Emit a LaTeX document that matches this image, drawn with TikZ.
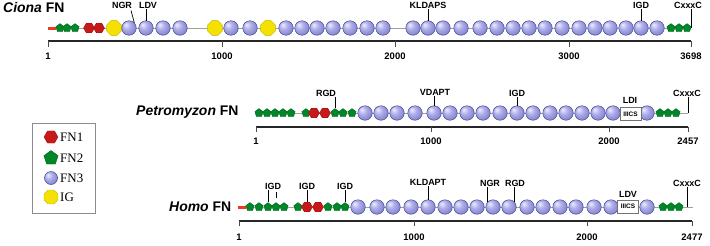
\documentclass[tikz,border=0pt]{standalone}
\usepackage{fontspec}
\setmainfont{Liberation Sans}
\newfontfamily\legfont{Liberation Serif}
\usetikzlibrary{shapes.geometric}
\definecolor{fnonecol}{RGB}{200,25,25}
\definecolor{fntwocol}{RGB}{0,135,40}
\definecolor{fnthreehi}{RGB}{238,238,255}
\definecolor{fnthreecol}{RGB}{172,172,232}
\definecolor{fnthreedk}{RGB}{125,125,205}
\definecolor{fnthreeline}{RGB}{70,70,145}
\definecolor{igcol}{RGB}{245,225,0}
\definecolor{dashcol}{RGB}{235,60,30}
\definecolor{bbcol}{RGB}{160,160,160}
\pgfdeclareradialshading{fnball}{\pgfpoint{-12bp}{12bp}}{color(0bp)=(fnthreehi); color(14bp)=(fnthreecol); color(32bp)=(fnthreedk); color(50bp)=(fnthreedk)}
\begin{document}
\begin{tikzpicture}[x=1bp,y=-1bp,
  backbone/.style={draw=bbcol, line width=0.8bp},
  axisline/.style={draw=black!85, line width=1.4bp},
  tickline/.style={draw=black!70, line width=0.6bp},
  labline/.style={draw=black, line width=0.7bp},
  fnthree/.style={circle, inner sep=0pt, minimum size=14.5bp, draw=fnthreeline, line width=0.5bp, shading=fnball},
  fntwo/.style={regular polygon, regular polygon sides=5, inner sep=0pt, minimum size=8.8bp, fill=fntwocol, draw=fntwocol!70!black, line width=0.3bp},
  fnone/.style={regular polygon, regular polygon sides=6, inner sep=0pt, minimum size=11bp, fill=fnonecol, draw=fnonecol!70!black, line width=0.3bp},
  igmod/.style={regular polygon, regular polygon sides=8, inner sep=0pt, minimum size=16bp, fill=igcol, draw=igcol!80!black, line width=0.3bp},
  reddash/.style={rectangle, inner sep=0pt, minimum width=8bp, minimum height=3bp, fill=dashcol},
  iiics/.style={rectangle, draw=black!55, fill=white, line width=0.6bp, minimum width=21bp, minimum height=13bp, inner sep=0pt, font=\fontsize{6.5}{7}\selectfont\bfseries},
  lbl/.style={inner sep=0.5bp, font=\fontsize{9}{10}\selectfont\bfseries},
  num/.style={inner sep=0pt, font=\fontsize{9.5}{10}\selectfont\bfseries},
  ttl/.style={inner sep=0pt, anchor=west, font=\fontsize{14}{16}\selectfont\bfseries},
  legtext/.style={inner sep=0pt, anchor=west, font=\fontsize{13}{14}\legfont}]
\useasboundingbox (0,0) rectangle (710,245);

% ================= Ciona =================
\node[ttl] (tciona) at (3,8) {\textit{Ciona} FN};
\coordinate (cstart) at (56,28);
\coordinate (cend) at (691,28);
\draw[backbone] (cstart) -- (cend);
\node[reddash] (cdash) at (52,28) {};
\foreach \x [count=\i] in {60,67,75,671,679,687} \node[fntwo] (cg-\i) at (\x,28) {};
\foreach \x [count=\i] in {89,99} \node[fnone] (cr-\i) at (\x,28) {};
\foreach \x [count=\i] in {114,215,268} \node[igmod] (cy-\i) at (\x,28) {};
\foreach \x [count=\i] in {129,146,163,180,231,250,286,302,317,333,350,367,383,413,428,443,461,480,497,513,529,545,562,579,595,610,626,641,657}
  \node[fnthree] (c-\i) at (\x,28) {};
\node[lbl] (cngr) at (122,5) {NGR};
\node[lbl] (cldv) at (148,5) {LDV};
\node[lbl] (ckld) at (428,5) {KLDAPS};
\node[lbl] (cigd) at (641,5) {IGD};
\node[lbl] (ccxc) at (688,5) {CxxxC};
\coordinate (cngrtop) at (131,10.5);
\draw[labline] (cngrtop) -- (c-1.north east);
\draw[labline] (c-2.north |- cldv.south) -- (c-2.north);
\draw[labline] (ckld.south) -- (c-15.north);
\draw[labline] (cigd.south) -- (c-28.north);
\draw[labline] (cend |- ccxc.south) -- (cend);
% axis
\coordinate (ca0) at (48,41);
\coordinate (ca1) at (691,41);
\draw[axisline] (ca0) -- (ca1);
\foreach \x/\t [count=\i] in {48/1,222/1000,395/2000,569/3000,691/3698}{
  \coordinate (cta-\i) at (\x,41);
  \coordinate (ctb-\i) at (\x,47);
  \draw[tickline] (cta-\i) -- (ctb-\i);
  \node[num] (cn-\i) at (\x,56) {\t};
}

% ================= Petromyzon =================
\node[ttl] (tpetro) at (136,112) {\textit{Petromyzon} FN};
\coordinate (pstart) at (255,113);
\coordinate (pend) at (688,113);
\draw[backbone] (pstart) -- (pend);
\foreach \x [count=\i] in {259,267,275,283,291,306,335,343,352,660,668,676} \node[fntwo] (pg-\i) at (\x,113) {};
\foreach \x [count=\i] in {314,325} \node[fnone] (pr-\i) at (\x,113) {};
\foreach \x [count=\i] in {365,381,397,415,434,450,467,483,500,517,533,550,566,582,598,613,647}
  \node[fnthree] (p-\i) at (\x,113) {};
\node[iiics] (piiics) at (630.5,114) {IIICS};
\node[lbl] (prgd) at (326,93) {RGD};
\node[lbl] (pvda) at (435,92) {VDAPT};
\node[lbl] (pigd) at (517,93) {IGD};
\node[lbl] (pldi) at (630,100) {LDI};
\node[lbl] (pcxc) at (687,93) {CxxxC};
\draw[labline] (pg-7.north |- prgd.south) -- (pg-7.north);
\draw[labline] (p-5.north |- pvda.south) -- (p-5.north);
\draw[labline] (pigd.south) -- (p-10.north);
\draw[labline] (pend |- pcxc.south) -- (pend);
% axis
\coordinate (pa0) at (256,127);
\coordinate (pa1) at (688,127);
\draw[axisline] (pa0) -- (pa1);
\foreach \x/\t [count=\i] in {256/1,431/1000,609/2000,688/2457}{
  \coordinate (pta-\i) at (\x,127);
  \coordinate (ptb-\i) at (\x,132);
  \draw[tickline] (pta-\i) -- (ptb-\i);
  \node[num] (pn-\i) at (\x,141) {\t};
}

% ================= Homo =================
\node[ttl] (thomo) at (169,207) {\textit{Homo} FN};
\coordinate (hstart) at (245,207);
\coordinate (hend) at (693,207);
\draw[backbone] (hstart) -- (hend);
\node[reddash] (hdash) at (242,207) {};
\foreach \x [count=\i] in {250,259,268,276,284,298,328,337,345,663,671,679} \node[fntwo] (hg-\i) at (\x,207) {};
\foreach \x [count=\i] in {307,318} \node[fnone] (hr-\i) at (\x,207) {};
\foreach \x [count=\i] in {358,377,393,411,428,445,461,477,493,509,527,543,560,576,594,611,647}
  \node[fnthree] (h-\i) at (\x,207) {};
\node[iiics] (hiiics) at (628,206.5) {IIICS};
\node[lbl] (higda) at (273,186) {IGD};
\node[lbl] (higdb) at (307,186) {IGD};
\node[lbl] (higdc) at (345,186) {IGD};
\node[lbl] (hkld) at (428,182) {KLDAPT};
\node[lbl] (hngr) at (490,183) {NGR};
\node[lbl] (hrgd) at (515,183) {RGD};
\node[lbl] (hldv) at (628,194) {LDV};
\node[lbl] (hcxc) at (687,183) {CxxxC};
\coordinate (hcx) at (687,207);
\draw[labline] (hg-3.north |- higda.south) -- (hg-3.north);
\coordinate (hib1) at (276,192);
\coordinate (hib2) at (276,198);
\draw[labline] (hib1) -- (hib2);
\draw[labline] (hr-1.north |- higdb.south) -- (hr-1.north);
\draw[labline] (hg-9.north |- higdc.south) -- (hg-9.north);
\draw[labline] (h-5.north |- hkld.south) -- (h-5.north);
\draw[labline] (h-9.north west |- hngr.south) -- (h-9.north west);
\draw[labline] (h-10.north east |- hrgd.south) -- (h-10.north east);
\draw[labline] (hcx |- hcxc.south) -- (hcx);
% axis
\coordinate (ha0) at (239,221);
\coordinate (ha1) at (692,221);
\draw[axisline] (ha0) -- (ha1);
\foreach \x/\t [count=\i] in {239/1,414/1000,587/2000,692/2477}{
  \coordinate (hta-\i) at (\x,221);
  \coordinate (htb-\i) at (\x,226);
  \draw[tickline] (hta-\i) -- (htb-\i);
  \node[num] (hn-\i) at (\x,237) {\t};
}

% ================= Legend =================
\node[draw=black!45, line width=0.6bp, minimum width=63bp, minimum height=90bp, inner sep=0pt] (legend) at (63.5,168) {};
\node[fnone, minimum size=14bp] (l1) at (51,137) {};
\node[legtext] (l1t) at (60,137.5) {FN1};
\node[fntwo, minimum size=15bp] (l2) at (51,158) {};
\node[legtext] (l2t) at (60,158) {FN2};
\node[fnthree, minimum size=13bp] (l3) at (51,178) {};
\node[legtext] (l3t) at (60,178) {FN3};
\node[igmod, minimum size=15bp] (l4) at (51,197) {};
\node[legtext] (l4t) at (60,197) {IG};
\end{tikzpicture}
\end{document}
